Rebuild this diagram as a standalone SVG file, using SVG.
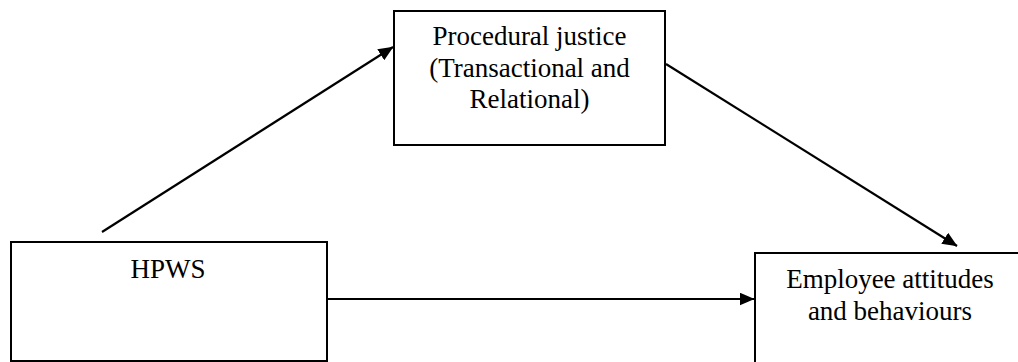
<svg xmlns="http://www.w3.org/2000/svg" width="1018" height="362" viewBox="0 0 1018 362">
<style>
.box{fill:#fff;stroke:#000;stroke-width:2}
.lbl{font-family:"Liberation Serif","Times New Roman",serif;font-size:27px;fill:#000;text-anchor:middle}
.conn{stroke:#000;stroke-width:2.2;fill:none;marker-end:url(#ah)}
</style>
<defs>
<marker id="ah" markerWidth="15" markerHeight="13" refX="14.5" refY="6.5" orient="auto" markerUnits="userSpaceOnUse" viewBox="0 0 15 13">
<path d="M0,0 L15,6.5 L0,13 z" fill="#000"/>
</marker>
</defs>
<rect width="1018" height="362" fill="#fff"/>
<g id="node-procedural">
<rect class="box" x="394" y="11" width="271" height="134"/>
<text class="lbl" x="529.5" y="45">Procedural justice</text>
<text class="lbl" x="529.5" y="77">(Transactional and</text>
<text class="lbl" x="529.5" y="108">Relational)</text>
</g>
<g id="node-hpws">
<rect class="box" x="11" y="242" width="316" height="119"/>
<text class="lbl" x="168" y="278">HPWS</text>
</g>
<g id="node-employee">
<rect class="box" x="755" y="253" width="280" height="130"/>
<text class="lbl" x="890" y="288">Employee attitudes</text>
<text class="lbl" x="890" y="320">and behaviours</text>
</g>
<g id="connectors">
<line class="conn" x1="102" y1="232" x2="393" y2="47"/>
<line class="conn" x1="666" y1="64" x2="957" y2="246"/>
<line class="conn" x1="327" y1="299" x2="754" y2="299"/>
</g>
</svg>
